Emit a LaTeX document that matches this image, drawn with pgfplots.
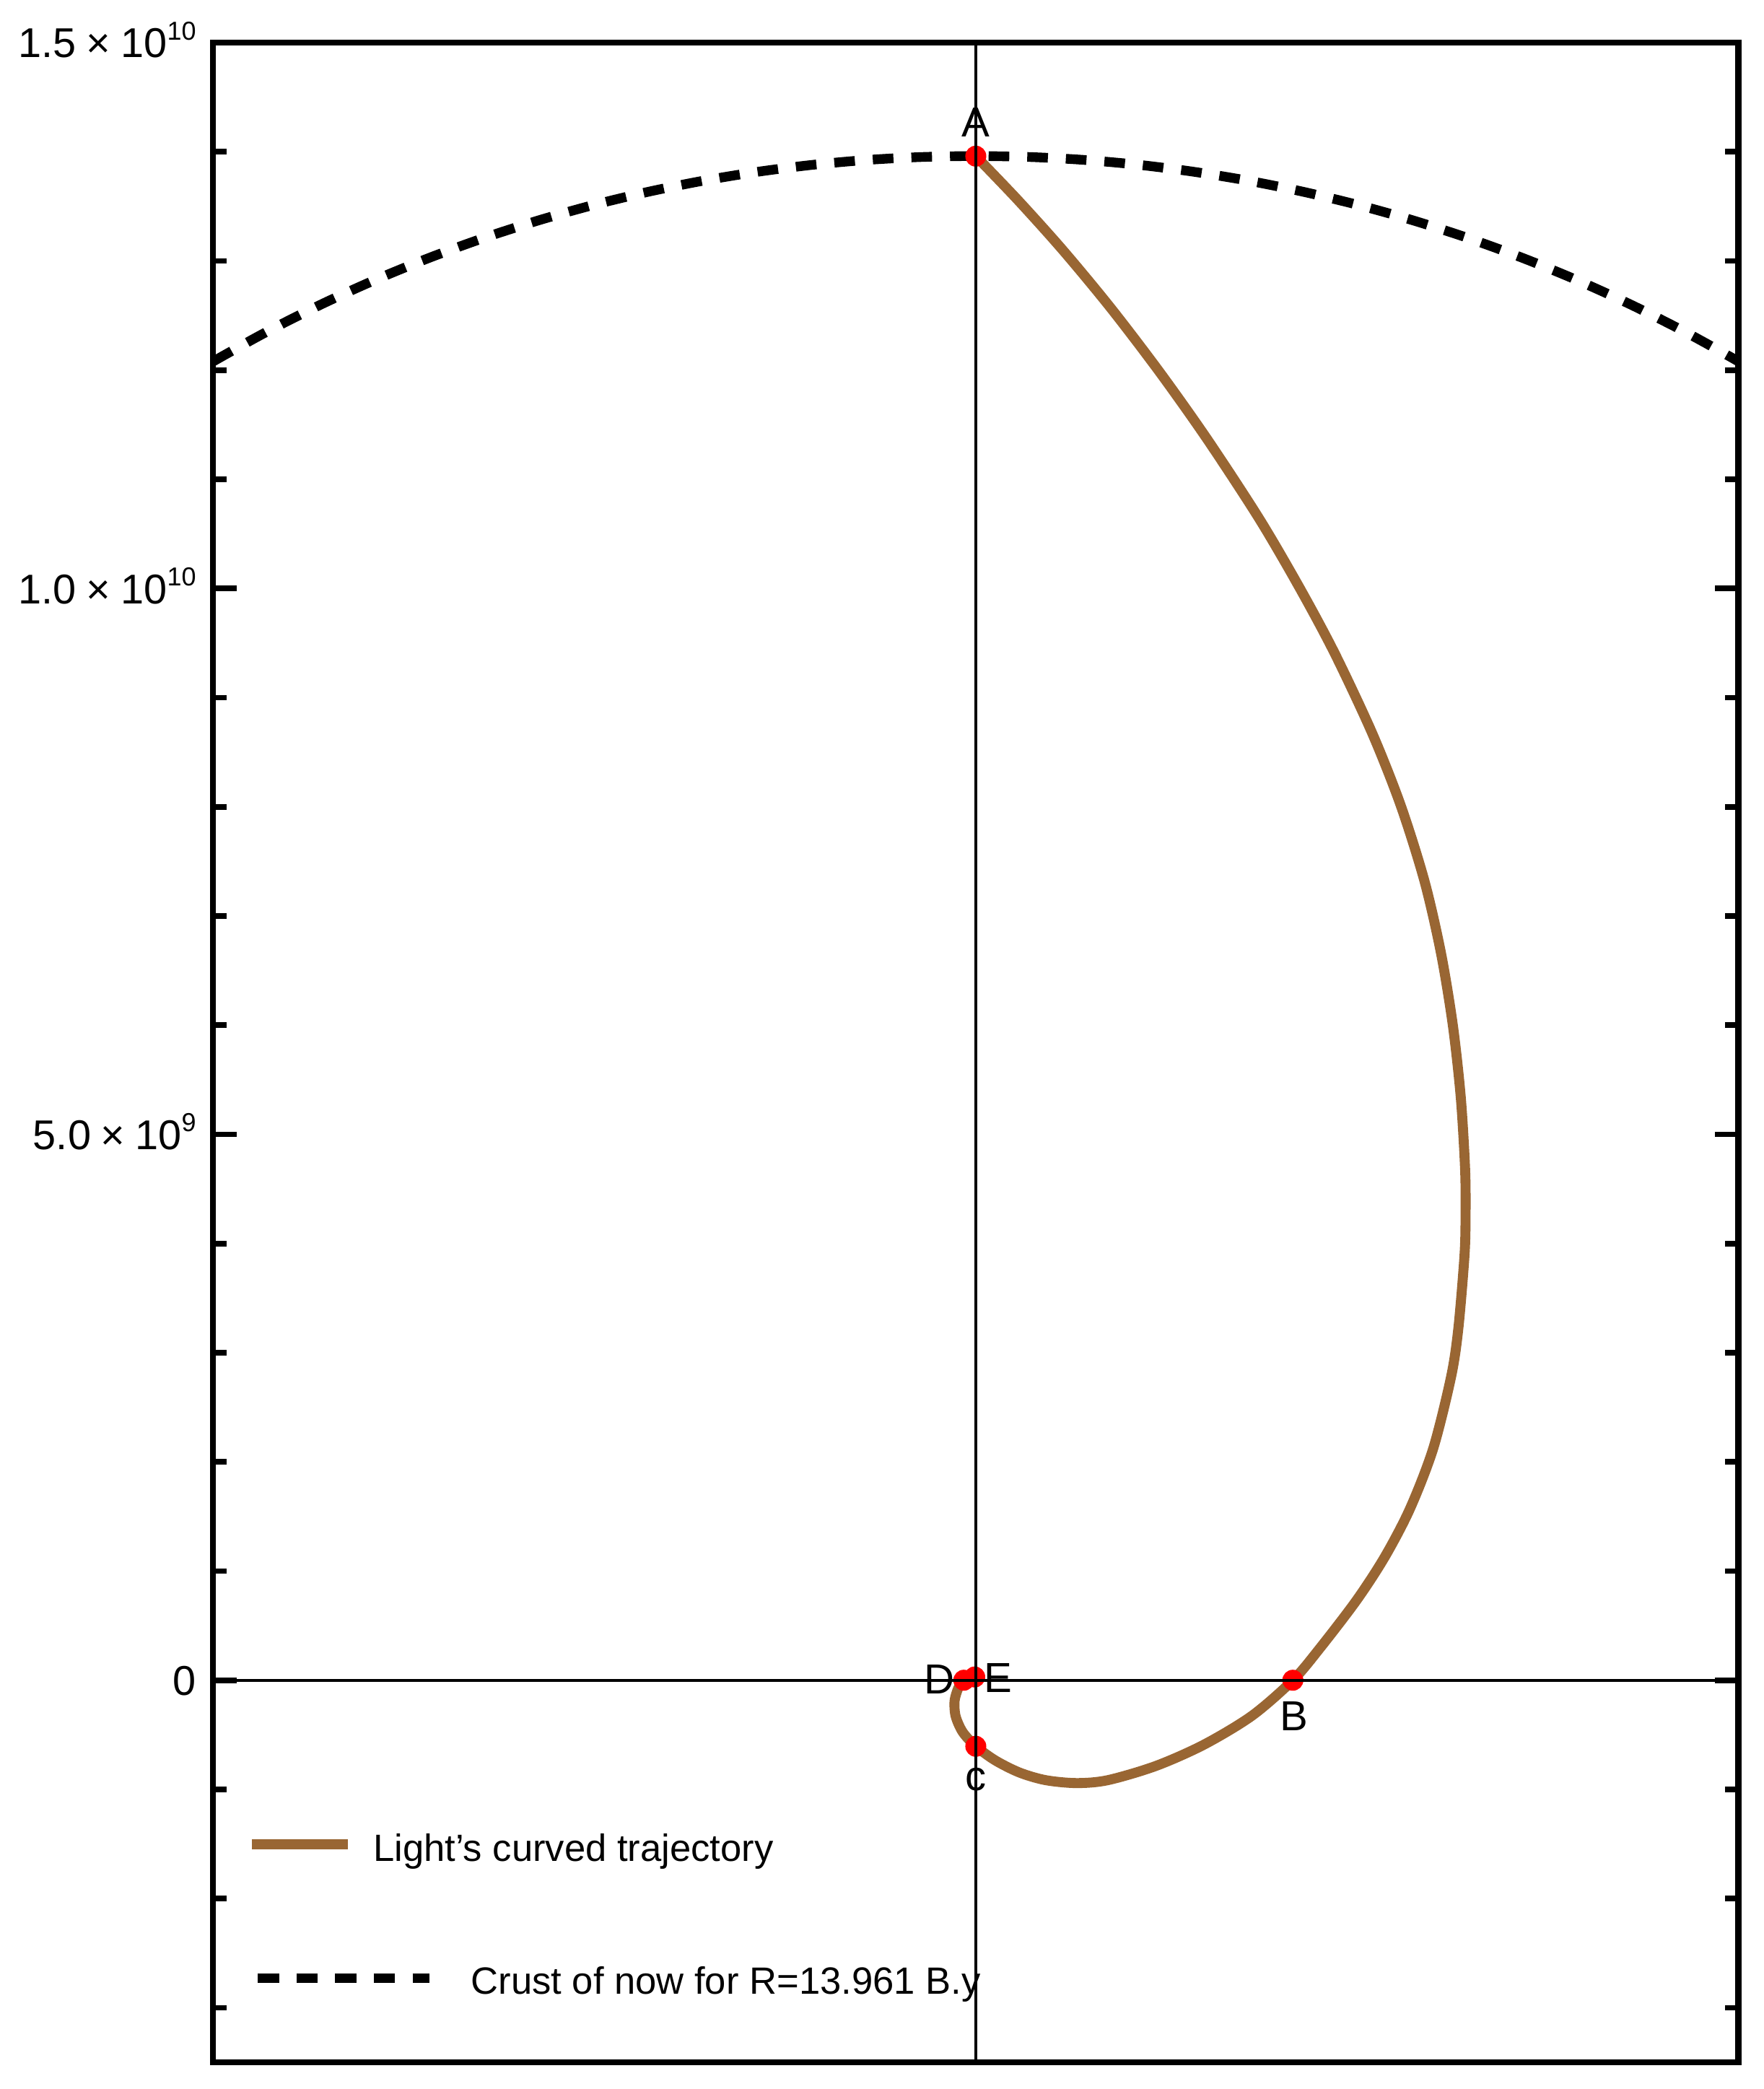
\documentclass[border=0pt]{standalone}
\usepackage{fontspec}
\setmainfont{Liberation Sans}
\usepackage{pgfplots}
\pgfplotsset{compat=1.18}
\definecolor{trajbrown}{rgb}{0.6,0.4,0.2}
% mantissa x 10^exp, Mathematica style
\newcommand{\sci}[2]{#1\hspace{3pt}×\hspace{3pt}10\raisebox{5.3pt}{\fontsize{7.8}{8}\selectfont #2}}

\begin{document}
\begin{tikzpicture}
\begin{axis}[
	scale only axis, width=458pt, height=606.4pt,
	xmin=-7, xmax=7, ymin=-3.5, ymax=15,
	xtick=\empty,
	ytick={0,5,10,15},
	yticklabels={0, \sci{5.0}{9}, \sci{1.0}{10}, \sci{1.5}{10}},
	minor ytick={-3,-2,-1,1,2,3,4,6,7,8,9,11,12,13,14},
	tick align=inside, ytick pos=both, yticklabel pos=left,
	major tick length=7pt, minor tick length=4pt,
	tick style={black, line width=1.7pt},
	axis line style={line width=1.8pt},
	yticklabel style={font=\fontsize{12.5}{14}\selectfont, anchor=base east, yshift=-4.5pt, xshift=-1.6pt},
	clip mode=individual,
]
% crust of now, radius 13.961 (units of 1e9)
\addplot[black, line width=2.9pt, dash pattern=on 6.2pt off 5.4pt, smooth] coordinates {
	(-7.3,11.9004) (-7,12.0793) (-6.5,12.3555) (-6,12.6059) (-5.5,12.8320) (-5,13.0349)
	(-4.5,13.2159) (-4,13.3757) (-3.5,13.5152) (-3,13.6349) (-2.5,13.7353) (-2,13.8170)
	(-1.5,13.8802) (-1,13.9251) (-0.5,13.9520) (0,13.961) (0.5,13.9520) (1,13.9251)
	(1.5,13.8802) (2,13.8170) (2.5,13.7353) (3,13.6349) (3.5,13.5152) (4,13.3757)
	(4.5,13.2159) (5,13.0349) (5.5,12.8320) (6,12.6059) (6.5,12.3555) (7,12.0793) (7.3,11.9004)};
% light's trajectory
\addplot[trajbrown, line width=3pt, smooth, tension=0.5] coordinates {
	(0,13.96) (0.384,13.56) (0.798,13.10) (1.238,12.57) (1.689,11.98) (2.129,11.36)
	(2.607,10.63) (2.981,9.99) (3.297,9.40) (3.640,8.67) (3.901,8.01) (4.118,7.32)
	(4.269,6.663) (4.378,6.002) (4.451,5.341) (4.491,4.679) (4.495,4.238) (4.485,3.886)
	(4.429,3.224) (4.363,2.783) (4.198,2.122) (3.985,1.571) (3.754,1.13) (3.495,0.733)
	(3.157,0.292) (2.910,0.0) (2.535,-0.325) (2.094,-0.590) (1.653,-0.785) (1.213,-0.915)
	(0.926,-0.942) (0.64,-0.915) (0.40,-0.845) (0.18,-0.735) (0,-0.605)
	(-0.12,-0.475) (-0.185,-0.33) (-0.195,-0.19) (-0.16,-0.07) (-0.11,0.0)};
% marked points A B C D E
\addplot[only marks, mark=*, mark size=2.95pt, mark options={draw=red, fill=red}] coordinates {
	(0,13.96) (2.91,0) (0,-0.605) (-0.11,0) (-0.01,0.03)};

\node[font=\fontsize{12.6}{14}\selectfont, anchor=base, inner sep=0] at (axis cs:0,14.14) {A};
\node[font=\fontsize{12.6}{14}\selectfont, anchor=base, inner sep=0] at (axis cs:2.918,-0.46) {B};
\node[font=\fontsize{12.6}{14}\selectfont, anchor=base, inner sep=0] at (axis cs:0,-1.009) {c};
\node[font=\fontsize{12.6}{14}\selectfont, anchor=base, inner sep=0] at (axis cs:-0.332,-0.127) {D};
\node[font=\fontsize{12.6}{14}\selectfont, anchor=base, inner sep=0] at (axis cs:0.204,-0.11) {E};

% legend
\draw[trajbrown, line width=3.1pt] (rel axis cs:0.0253,0.108) -- (rel axis cs:0.0882,0.108);
\node[anchor=base west, inner sep=0, font=\fontsize{11.4}{14}\selectfont] at ([yshift=-5.1pt]rel axis cs:0.1045,0.108) {Light’s curved trajectory};
\draw[black, line width=2.7pt, dash pattern=on 6.3pt off 5.3pt] (rel axis cs:0.0294,0.0416) -- (rel axis cs:0.1416,0.0416);
\node[anchor=base west, inner sep=0, font=\fontsize{11.4}{14}\selectfont] at ([yshift=-4.8pt]rel axis cs:0.1686,0.0416) {Crust of now for R=13.961 B.y};

% axes through the origin, on top
\draw[line width=0.9pt] (axis cs:-7,0) -- (axis cs:7,0);
\draw[line width=0.9pt] (axis cs:0,-3.5) -- (axis cs:0,15);
\end{axis}
\path ([xshift=-64pt,yshift=-8pt]current axis.south west) rectangle ([xshift=7.6pt,yshift=12.8pt]current axis.north east);
\end{tikzpicture}
\end{document}
